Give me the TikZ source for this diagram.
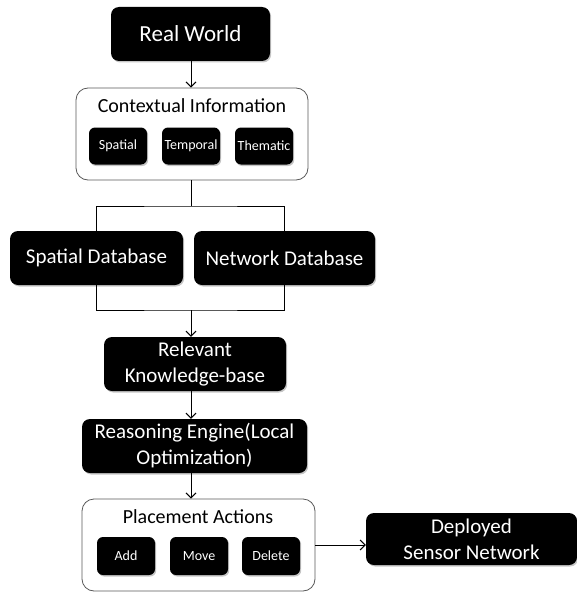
\documentclass[tikz,border=0pt]{standalone}
\usepackage{fontspec}
\setmainfont{Carlito}
\usetikzlibrary{arrows.meta,shadows}

\tikzset{
  blk/.style={fill=black, rounded corners=8pt, text=white, align=center, inner sep=0pt,
    drop shadow={shadow xshift=1.2pt, shadow yshift=-1.5pt, opacity=0.45}},
  grp/.style={draw=black!65, fill=white, rounded corners=12pt, line width=0.8pt},
  big/.style={font=\fontsize{21}{26}\selectfont},
  small/.style={font=\fontsize{14}{16}\selectfont, rounded corners=6pt, minimum width=58pt, minimum height=37pt},
  arr/.style={-{Straight Barb[length=5pt,width=10pt]}, line width=1pt}
}

\begin{document}
\begin{tikzpicture}[x=1pt,y=-1pt]
\useasboundingbox (0,0) rectangle (577,594);
\node[blk,font=\fontsize{23}{26}\selectfont,minimum width=159pt,minimum height=54pt] (real) at (190.5,34) {Real World};
% context
\node[grp,minimum width=232pt,minimum height=92pt] (ctx) at (192,134) {};
\node[font=\fontsize{20}{24}\selectfont] (ctxtitle) at (192,106) {Contextual Information};
\node[blk,small] (spat) at (118,146) {Spatial};
\node[blk,small] (temp) at (191,146) {Temporal};
\node[blk,small] (them) at (264,146) {Thematic};
% databases
\node[blk,big,minimum width=173pt,minimum height=54pt] (sdb) at (96.5,258) {Spatial Database};
\node[blk,big,minimum width=181pt,minimum height=54pt] (ndb) at (284.5,258) {Network Database};
\coordinate (split) at (191,206);
\coordinate (join) at (191,310);
\node[blk,big,minimum width=182pt,minimum height=54pt] (rel) at (195,364) {Relevant\\Knowledge-base};
\node[blk,big,minimum width=225pt,minimum height=54pt] (rea) at (194.5,446) {Reasoning Engine(Local\\Optimization)};
% placement
\node[grp,minimum width=233pt,minimum height=92pt] (pla) at (198.5,545) {};
\node[font=\fontsize{20}{24}\selectfont] (platitle) at (198,517) {Placement Actions};
\node[blk,small,minimum height=38pt] (add) at (126,556) {Add};
\node[blk,small,minimum height=38pt] (move) at (199,556) {Move};
\node[blk,small,minimum height=38pt] (del) at (271,556) {Delete};
\node[blk,big,minimum width=211pt,minimum height=52pt] (dep) at (471.5,539) {Deployed\\Sensor Network};

\draw[arr] (real.south -| split) -- (ctx.north -| split);
\draw[line width=1pt] (ctx.south -| split) -- (split);
\draw[line width=1pt] (sdb) |- (split) -| (ndb);
\draw[line width=1pt] (sdb) |- (join) -| (ndb);
\draw[arr] (join) -- (rel.north -| join);
\draw[arr] (rel.south -| join) -- (rea.north -| join);
\draw[arr] (rea.south -| join) -- (pla.north -| join);
\draw[arr] (pla.east) -- (pla.east -| dep.west);
\end{tikzpicture}
\end{document}
